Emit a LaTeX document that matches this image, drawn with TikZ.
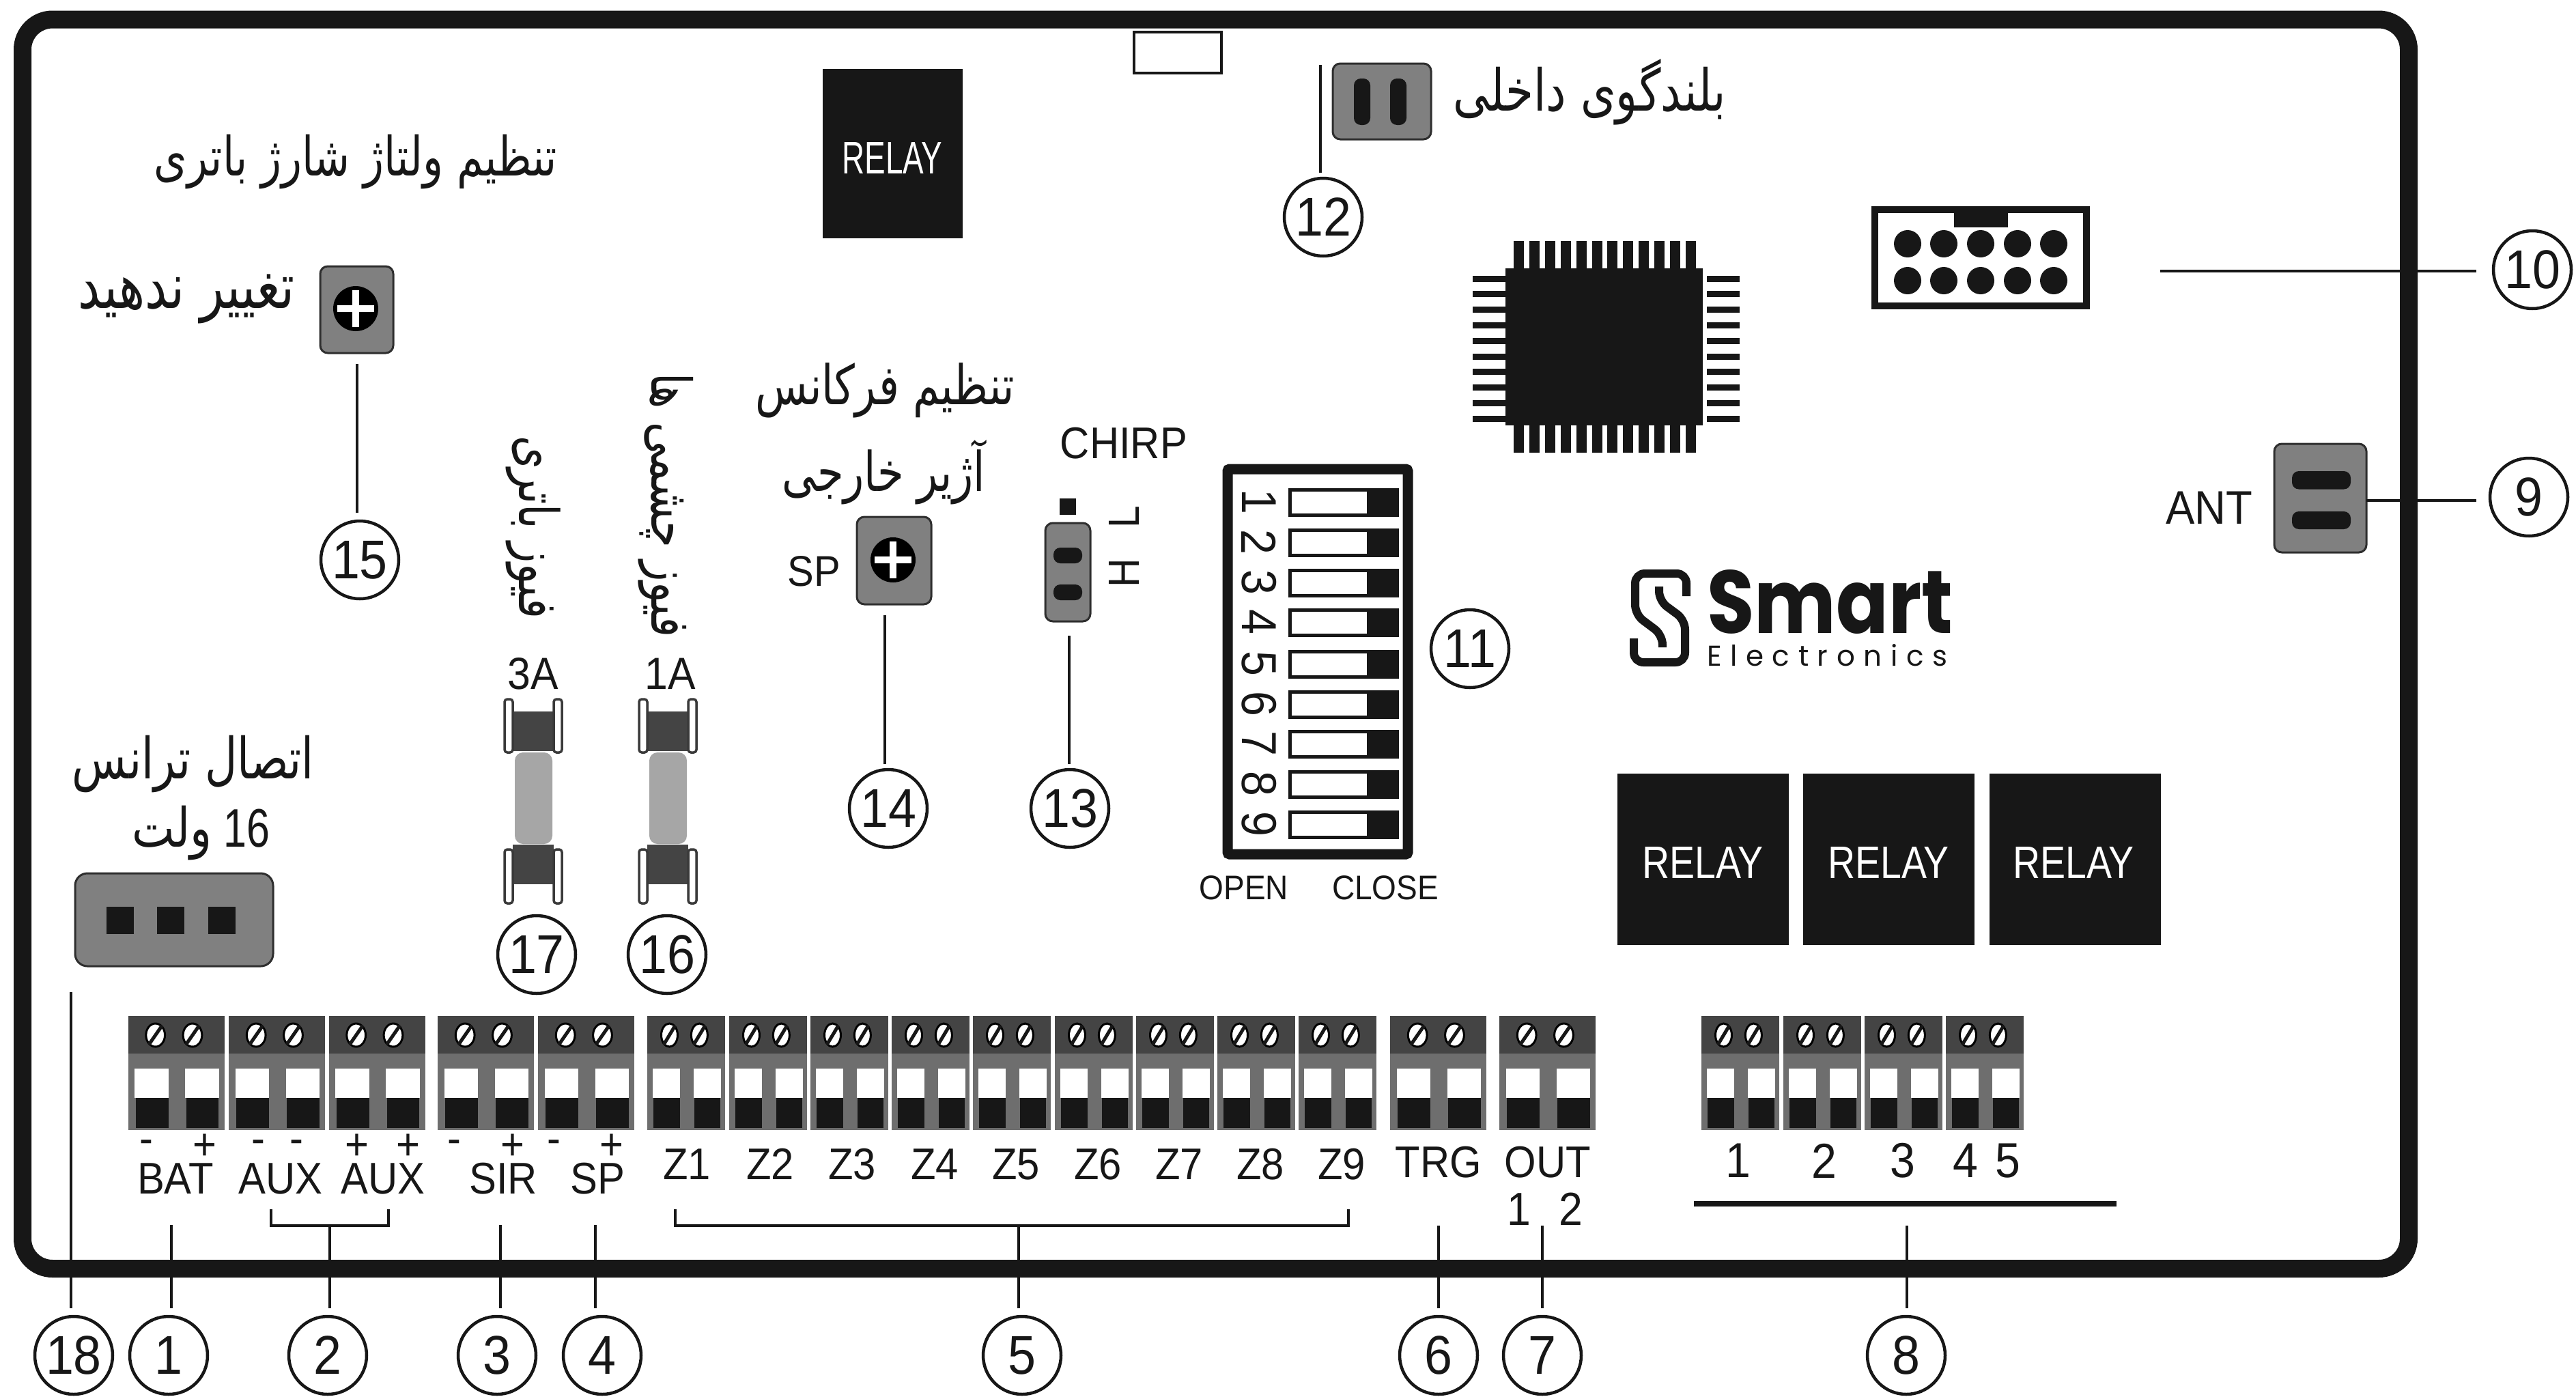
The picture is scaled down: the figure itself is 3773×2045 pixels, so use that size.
\documentclass[tikz,border=0pt]{standalone}
\usepackage{fontspec}
\usepackage{graphicx}
\TeXXeTstate=1
\setmainfont{Liberation Sans}[FakeStretch=0.92]
\newfontfamily\fa[Script=Arabic]{DejaVu Sans}
\newfontfamily\logofont{Poppins}
\newfontfamily\logospaced{Poppins}[LetterSpace=30]
\definecolor{ink}{HTML}{171717}
\definecolor{tdark}{HTML}{444444}
\definecolor{tmid}{HTML}{6E6E6E}
\definecolor{chipgray}{HTML}{808080}
\definecolor{glass}{HTML}{A6A6A6}
\newcommand\fs[1]{\fontsize{#1}{#1}\selectfont}
\newcommand\fat[2]{\resizebox{#1pt}{!}{\scalebox{1}[1.28]{\fa\fs{60}#2}}}
\newcommand\screwdraw[2]{%
  \draw[line width=3pt,draw=black,fill=white] (#1,1516) ellipse [x radius=#2 pt,y radius=17pt];
  \draw[line width=5pt,draw=ink] ({#1-.7*#2},1530) -- ({#1+.7*#2},1502);}
\newcommand\tblock[2]{%
  \begin{scope}[shift={(#1,0)}]
    \fill[tmid] (0,1488) rectangle (#2,1655);
    \fill[tdark] (0,1488) rectangle (#2,1543);
    \fill[white] ({.07*#2},1565) rectangle ({.42*#2},1608);
    \fill[white] ({.595*#2},1565) rectangle ({.945*#2},1608);
    \fill[ink] ({.08*#2},1608) rectangle ({.42*#2},1652);
    \fill[ink] ({.605*#2},1608) rectangle ({.94*#2},1652);
    \pgfmathsetmacro\sa{.285*#2}\pgfmathsetmacro\sb{.67*#2}\pgfmathsetmacro\sr{.07*#2+4}
    \screwdraw{\sa}{\sr}\screwdraw{\sb}{\sr}
  \end{scope}}
\newcommand\potbox[6]{%
  \draw[chipbody] (#1,#2) rectangle (#3,#4);
  \fill[black] (#5,#6) circle [radius=33pt];
  \fill[white] ({#5-27},{#6-5}) rectangle ({#5+27},{#6+5});
  \fill[white] ({#5-5},{#6-27}) rectangle ({#5+5},{#6+27});}
\newcommand\fuse[1]{%
  \begin{scope}[shift={(#1,0)}]
    \fill[tdark] (-30,1042) rectangle (30,1100);
    \fill[tdark] (-30,1237) rectangle (30,1295);
    \fill[glass,rounded corners=12pt] (-27,1102) rectangle (28,1236);
    \draw[leadwire] (-42,1024) rectangle (-30,1102);
    \draw[leadwire] (30,1024) rectangle (42,1102);
    \draw[leadwire] (-42,1244) rectangle (-30,1323);
    \draw[leadwire] (30,1244) rectangle (42,1323);
  \end{scope}}
\tikzset{
  chipbody/.style={fill=chipgray,draw=ink!90,line width=3pt,rounded corners=11pt},
  leadwire/.style={fill=white,draw=ink!85,line width=3.5pt,rounded corners=4pt},
  slot/.style={fill=ink,rounded corners=10pt},
  pinfill/.style={fill=ink},
  lead/.style={draw=ink,line width=4.5pt},
  num/.style={circle,draw=ink,line width=4.5pt,minimum size=114pt,inner sep=0pt,outer sep=12pt,text=ink,font=\fs{80}},
  lab/.style={inner sep=0pt,text=ink,font=\fs{65}},
  small/.style={inner sep=0pt,text=ink,font=\fs{50}},
  fatxt/.style={inner sep=0pt,text=ink},
  relay/.style={inner sep=0pt,text=white,font=\fs{63}},
}
\begin{document}
\begin{tikzpicture}[x=1pt,y=-1pt]
\useasboundingbox (0,0) rectangle (3773,2045);
\fill[white] (0,0) rectangle (3773,2045);

% small rectangle at top, and the frame
\draw[draw=ink,line width=3.5pt] (1661,47) rectangle (1789,107);
\draw[draw=ink,line width=26pt,rounded corners=44pt] (33,28.5) rectangle (3528,1858);

% relays
\fill[ink] (1205,101) rectangle (1410,349);
\node[relay] (r0) at (1307,231) {\resizebox{147pt}{46pt}{RELAY}};
\fill[ink] (2369,1133) rectangle (2620,1384);
\fill[ink] (2641,1133) rectangle (2892,1384);
\fill[ink] (2914,1133) rectangle (3165,1384);
\node[relay] (r1) at (2494,1263) {\resizebox{178pt}{46pt}{RELAY}};
\node[relay] (r2) at (2766,1263) {\resizebox{178pt}{46pt}{RELAY}};
\node[relay] (r3) at (3037,1263) {\resizebox{178pt}{46pt}{RELAY}};

% MCU
\fill[pinfill] (2205,393) rectangle (2494,623);
\foreach \i in {0,...,11}{
  \fill[pinfill] ({2217+\i*22.9},353) rectangle ({2232+\i*22.9},394);
  \fill[pinfill] ({2217+\i*22.9},622) rectangle ({2232+\i*22.9},663);}
\foreach \i in {0,...,9}{
  \fill[pinfill] (2157,{403.5+\i*22.8}) rectangle (2205,{412.5+\i*22.8});
  \fill[pinfill] (2500,{403.5+\i*22.8}) rectangle (2548,{412.5+\i*22.8});}

% 10-pin header
\draw[draw=ink,line width=10pt] (2746,307) rectangle (3056,448);
\fill[ink] (2862,305) rectangle (2941,333);
\foreach \cx in {2794,2847,2901,2955,3008}{
  \fill[ink] (\cx,357) circle [radius=20pt];
  \fill[ink] (\cx,411) circle [radius=20pt];}

% speaker connector
\draw[chipbody] (1952,93) rectangle (2096,204);
\fill[slot] (1983,115) rectangle (2007,183);
\fill[slot] (2036,115) rectangle (2060,183);

% ANT connector
\draw[chipbody] (3331,650) rectangle (3466,809);
\fill[slot] (3357,690) rectangle (3443,716.5);
\fill[slot] (3357,749) rectangle (3443,775);
\node[lab,font=\fs{69}] (ant) at (3236,744) {ANT};

% trimmers
\potbox{469}{390}{576}{517}{521}{452}
\potbox{1255}{757}{1364}{885}{1308}{820}
\node[lab,font=\fs{63}] (sp0) at (1192,837) {SP};

% chirp jumper
\fill[ink] (1552,730) rectangle (1576,754);
\draw[chipbody] (1531,766) rectangle (1597,910);
\fill[slot] (1543,802) rectangle (1585,825);
\fill[slot] (1543,856) rectangle (1585,879);
\node[lab,font=\fs{65}] (chirp) at (1646,649) {CHIRP};
\node[lab,font=\fs{64},rotate=90] (low) at (1646,757) {L};
\node[lab,font=\fs{64},rotate=90] (high) at (1646,839) {H};

% fuses
\fuse{781}
\fuse{978}
\node[lab,font=\fs{66}] (a3) at (781,987) {3A};
\node[lab,font=\fs{66}] (a1) at (982,987) {1A};

% transformer connector
\draw[chipbody,rounded corners=18pt] (110,1279) rectangle (400,1415);
\fill[ink] (156,1328) rectangle (196,1368);
\fill[ink] (230,1328) rectangle (270,1368);
\fill[ink] (305,1328) rectangle (345,1368);

% DIP switch
\draw[draw=ink,line width=15pt,rounded corners=3pt] (1798,687) rectangle (2062,1251);
\foreach \n/\yy in {1/715,2/774,3/833,4/891,5/952,6/1011,7/1069,8/1128,9/1187}{
  \draw[draw=ink,line width=5pt] (1889,{\yy+2}) rectangle (2046,{\yy+39});
  \fill[ink] (2002,\yy) rectangle (2048,{\yy+41});
  \node[lab,font=\fs{72},rotate=-90] (d\n) at (1844,{\yy+20}) {\n};}
\node[small] (open) at (1822,1300) {OPEN};
\node[small] (close) at (2029,1300) {CLOSE};

% terminal blocks
\foreach \bx in {187.5,335,481.5,641,788,2036,2196}{\tblock{\bx}{141}}
\foreach \bx in {948,1068,1187,1306,1425,1545,1664,1783,1902,2492,2612,2731,2850}{\tblock{\bx}{114}}

% terminal labels
\foreach \nm/\mx in {m1/214,m2/378,m3/434,m4/665,m5/811}{\node[lab] (\nm) at (\mx,1680) {-};}
\foreach \nm/\mx in {p1/300,p2/523,p3/598,p4/751,p5/896}{\node[lab] (\nm) at (\mx,1680) {+};}
\node[lab] (bat) at (257,1726) {BAT};
\node[lab] (aux1) at (411,1726) {AUX};
\node[lab] (aux2) at (561,1726) {AUX};
\node[lab] (sir) at (737,1726) {SIR};
\node[lab] (sp1) at (875,1726) {SP};
\foreach \n/\zx in {1/1006,2/1128,3/1248,4/1369,5/1488,6/1608,7/1727,8/1846,9/1965}{\node[lab] (z\n) at (\zx,1705) {Z\n};}
\node[lab] (trg) at (2107,1702) {TRG};
\node[lab] (out) at (2267,1702) {OUT};
\node[lab,font=\fs{68}] (o1) at (2225,1771) {1};
\node[lab,font=\fs{68}] (o2) at (2301,1771) {2};
\node[lab,font=\fs{72}] (k1) at (2546,1700) {1};
\node[lab,font=\fs{72}] (k2) at (2672,1700) {2};
\node[lab,font=\fs{72}] (k3) at (2787,1700) {3};
\node[lab,font=\fs{72}] (k4) at (2879,1700) {4};
\node[lab,font=\fs{72}] (k5) at (2941,1700) {5};

% Persian labels
\node[fatxt] (t1) at (521,237) {\fat{590}{\beginR تنظیم ولتاژ شارژ باتری\endR}};
\node[fatxt] (t2) at (273,438) {\fat{317}{\beginR تغییر ندهید\endR}};
\node[fatxt,rotate=-90] (t3) at (781,772) {\fat{268}{\beginR فیوز باتری\endR}};
\node[fatxt,rotate=-90] (t4) at (975,740) {\fat{388}{\beginR فیوز چشمی ها\endR}};
\node[fatxt] (t5) at (1296,572) {\fat{379}{\beginR تنظیم فرکانس\endR}};
\node[fatxt] (t6) at (1294,692) {\fat{298}{\beginR آژیر خارجی\endR}};
\node[fatxt] (t7) at (283,1119) {\fat{354}{\beginR اتصال ترانس\endR}};
\node[fatxt] (t8) at (294,1220) {\resizebox{202pt}{!}{\scalebox{1}[1.2]{\fs{60}\beginR\beginL 16\endL\ {\fa ولت}\endR}}};
\node[fatxt] (t9) at (2328,135) {\fat{399}{\beginR بلندگوی داخلی\endR}};

% logo
\draw[draw=ink,line width=12pt,rounded corners=14pt] (2470,873) -- (2470,840) -- (2395,840) -- (2395,900) -- (2435,930) -- (2435,948);
\draw[draw=ink,line width=12pt,rounded corners=14pt] (2393,935) -- (2393,970) -- (2468,970) -- (2468,908) -- (2430,880) -- (2430,859);
\node[inner sep=0pt,text=ink,anchor=south west] (smart) at (2500,929) {\resizebox{360pt}{93pt}{\logofont\bfseries\fs{130}Smart}};
\node[inner sep=0pt,text=ink,anchor=base west] (elec) at (2500,975) {\logospaced\fs{42}Electronics};

% numbered circles
\foreach \n/\cx/\cy in {18/108/1985,1/247/1985,2/480/1985,3/728/1985,4/882/1985,5/1497/1985,6/2107/1985,7/2259/1985,8/2792/1985,
  9/3704/728,10/3709/395,11/2153/950,12/1938/318,13/1567/1184,14/1301/1184,15/527/820,16/977/1398,17/786/1398}{
  \node[num] (c\n) at (\cx,\cy) {\n};}

% leaders
\coordinate (l18) at (104,1453);
\coordinate (l1) at (251,1794);
\coordinate (l2) at (483,1795);
\coordinate (l3) at (733,1794);
\coordinate (l4) at (872,1794);
\coordinate (l5) at (1492,1795);
\coordinate (l6) at (2107,1795);
\coordinate (l7) at (2259,1795);
\coordinate (l8) at (2793,1795);
\foreach \n in {18,1,2,3,4,5,6,7,8}{\draw[lead] (l\n) -- (l\n |- c\n.north);}
\coordinate (l10) at (3164,397);
\coordinate (l9) at (3466,733);
\draw[lead] (l10) -- ([xshift=-13pt]l10 -| c10.west);
\draw[lead] (l9) -- ([xshift=-8pt]l9 -| c9.west);
\coordinate (l12) at (1934,95);
\coordinate (l13) at (1566,931);
\coordinate (l14) at (1296,901);
\coordinate (l15) at (523,533);
\foreach \n in {12,13,14}{\draw[lead] (l\n) -- ([yshift=-4pt]l\n |- c\n.north);}
\draw[lead] (l15) -- (l15 |- c15.north);
\coordinate (b2a) at (397,1771);
\coordinate (b2b) at (569,1771);
\draw[lead] (b2a) -- (397,1795) -- (569,1795) -- (b2b);
\coordinate (b5a) at (989,1771);
\coordinate (b5b) at (1975,1771);
\draw[lead] (b5a) -- (989,1795) -- (1975,1795) -- (b5b);
\coordinate (b8a) at (2481,1763);
\coordinate (b8b) at (3100,1763);
\draw[draw=ink,line width=8pt] (b8a) -- (b8b);
\end{tikzpicture}
\end{document}
